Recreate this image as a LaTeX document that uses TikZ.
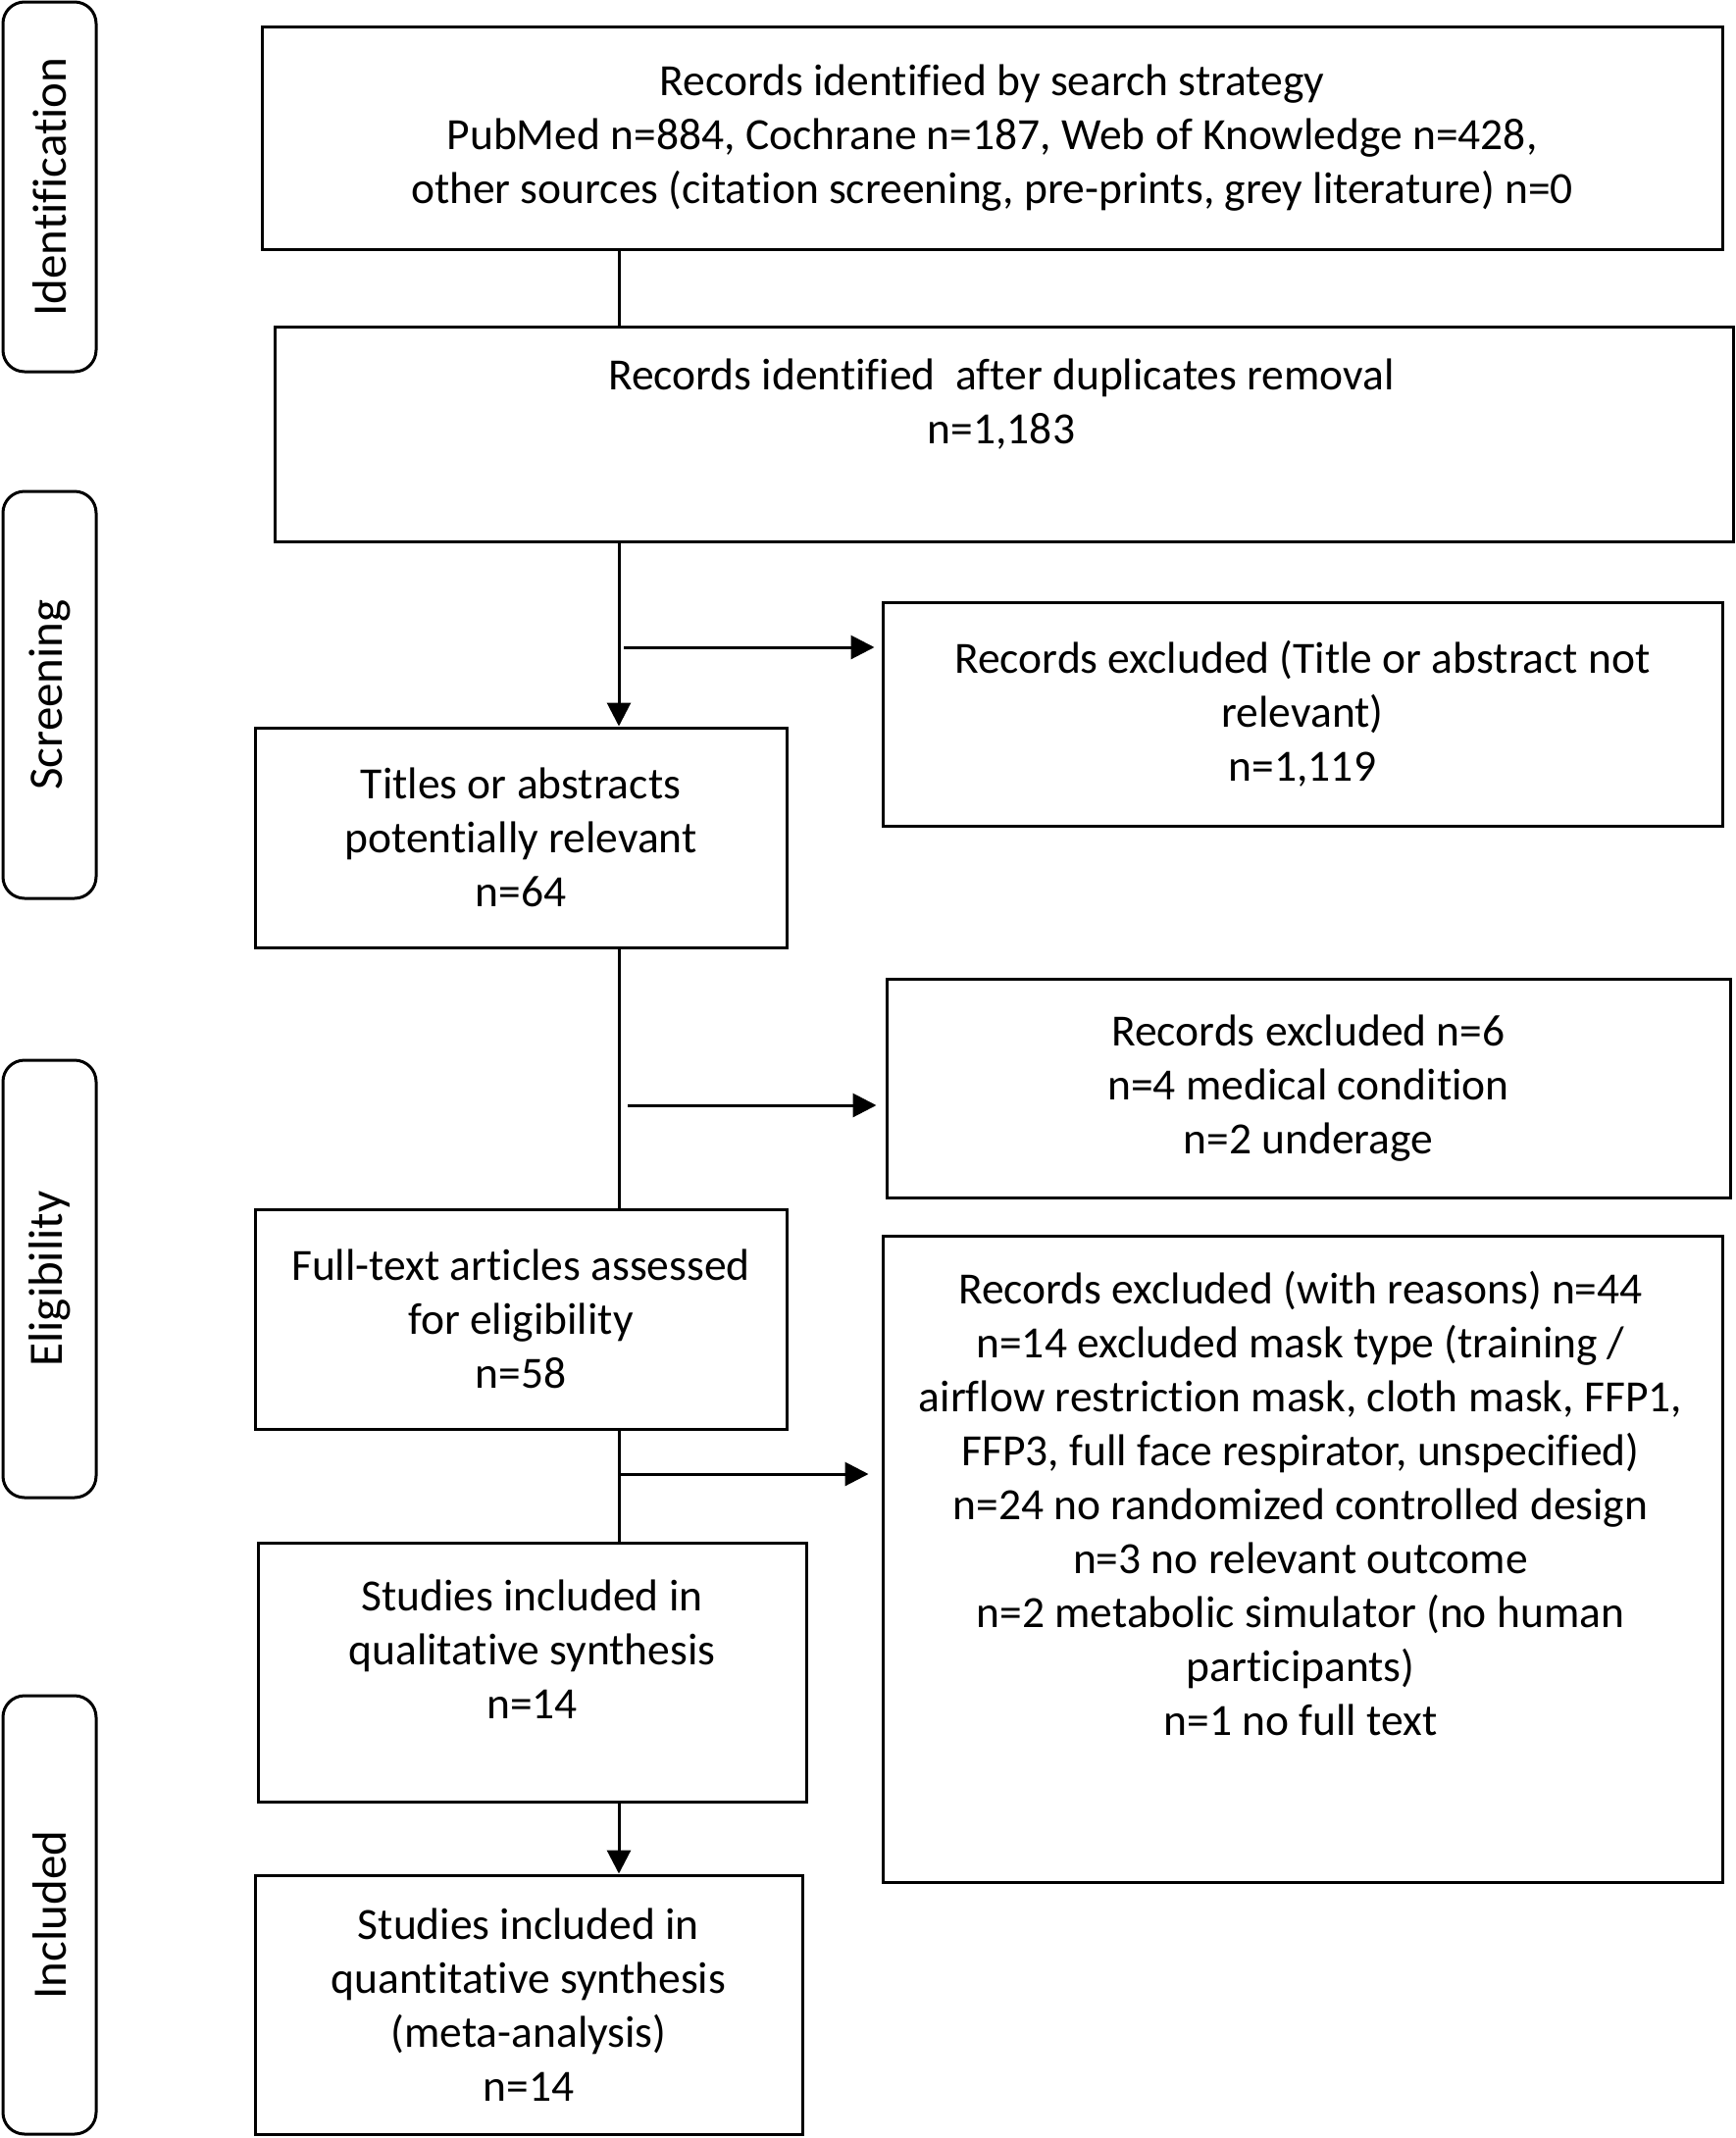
\documentclass[tikz,border=0pt]{standalone}
\usepackage{fontspec}
\setmainfont[Ligatures={NoCommon}]{Carlito}
\usetikzlibrary{arrows.meta}
\begin{document}
\begin{tikzpicture}[x=1pt,y=-1pt,
  frame/.style={draw, line width=3pt, inner sep=0pt, anchor=center},
  txt/.style={align=center, inner sep=0pt, font=\fontsize{45.5}{55}\selectfont},
  pill/.style={draw, line width=3pt, rounded corners=22pt, inner sep=0pt, anchor=center},
  pilltxt/.style={rotate=90, inner sep=0pt, font=\fontsize{49}{58}\selectfont},
  ln/.style={line width=3pt},
  arr/.style={line width=3pt, -{Triangle[length=24pt,width=24pt]}}]
\useasboundingbox (0,0) rectangle (1770,2180);

% phase pills
\node[pill, minimum width=95pt, minimum height=377pt] (p1) at (50.5,190.5) {};
\node[pilltxt] (p1t) at (p1.center) {Identification};
\node[pill, minimum width=95pt, minimum height=415pt] (p2) at (50.5,708.5) {};
\node[pilltxt] (p2t) at (p2.center) {Screening};
\node[pill, minimum width=95pt, minimum height=446pt] (p3) at (50.5,1304) {};
\node[pilltxt] (p3t) at (p3.center) {Eligibility};
\node[pill, minimum width=95pt, minimum height=447pt] (p4) at (50.5,1952.5) {};
\node[pilltxt] (p4t) at (p4.center) {Included};

% main boxes
\node[frame, txt, minimum width=1489pt, minimum height=227pt] (b1) at (1011.5,140.5)
 {Records identified by search strategy\\
  PubMed n=884, Cochrane n=187, Web of Knowledge n=428,\\
  other sources (citation screening, pre-prints, grey literature) n=0};

\node[frame, minimum width=1487pt, minimum height=219pt] (b2) at (1023.5,442.5) {};
\node[txt] (b2t) at (1021,412) {Records identified~ after duplicates removal\\ n=1,183};

\node[frame, txt, minimum width=542pt, minimum height=224pt] (b3) at (531,854)
 {Titles or abstracts\\ potentially relevant\\ n=64};

\node[frame, txt, minimum width=542pt, minimum height=224pt] (b4) at (531,1345)
 {Full-text articles assessed\\ for eligibility\\ n=58};

\node[frame, minimum width=559pt, minimum height=264pt] (b5) at (542.5,1705) {};
\node[txt] (b5t) at (542.5,1682) {Studies included in\\ qualitative synthesis\\ n=14};

\node[frame, txt, minimum width=558pt, minimum height=264pt] (b6) at (539,2044)
 {Studies included in\\ quantitative synthesis\\ (meta-analysis)\\ n=14};

% exclusion boxes
\node[frame, txt, minimum width=856pt, minimum height=228pt] (rA) at (1328,728)
 {Records excluded (Title or abstract not\\ relevant)\\ n=1,119};

\node[frame, txt, minimum width=860pt, minimum height=223pt] (rB) at (1334,1109.5)
 {Records excluded n=6\\ n=4 medical condition\\ n=2 underage};

\node[frame, minimum width=856pt, minimum height=659pt] (rC) at (1328,1589.5) {};
\node[txt] (rCt) at (1326,1533.5)
 {Records excluded (with reasons) n=44\\
  n=14 excluded mask type (training /\\
  airflow restriction mask, cloth mask, FFP1,\\
  FFP3, full face respirator, unspecified)\\
  n=24 no randomized controlled design\\
  n=3 no relevant outcome\\
  n=2 metabolic simulator (no human\\
  participants)\\
  n=1 no full text};

% connectors
\coordinate (mx) at (631,0);
\coordinate (j1) at (636,660);
\coordinate (j2) at (640,1127);
\coordinate (j3) at (631,1503);
\draw[ln] (b1.south -| mx) -- (b2.north -| mx);
\draw[arr] (b2.south -| mx) -- (b3.north -| mx);
\draw[ln] (b3.south -| mx) -- (b4.north -| mx);
\draw[ln] (b4.south -| mx) -- (b5.north -| mx);
\draw[arr] (b5.south -| mx) -- (b6.north -| mx);
\draw[arr, shorten >=7pt] (j1) -- (j1 -| rA.west);
\draw[arr, shorten >=9pt] (j2) -- (j2 -| rB.west);
\draw[arr, shorten >=13pt] (j3) -- (j3 -| rC.west);
\end{tikzpicture}
\end{document}
